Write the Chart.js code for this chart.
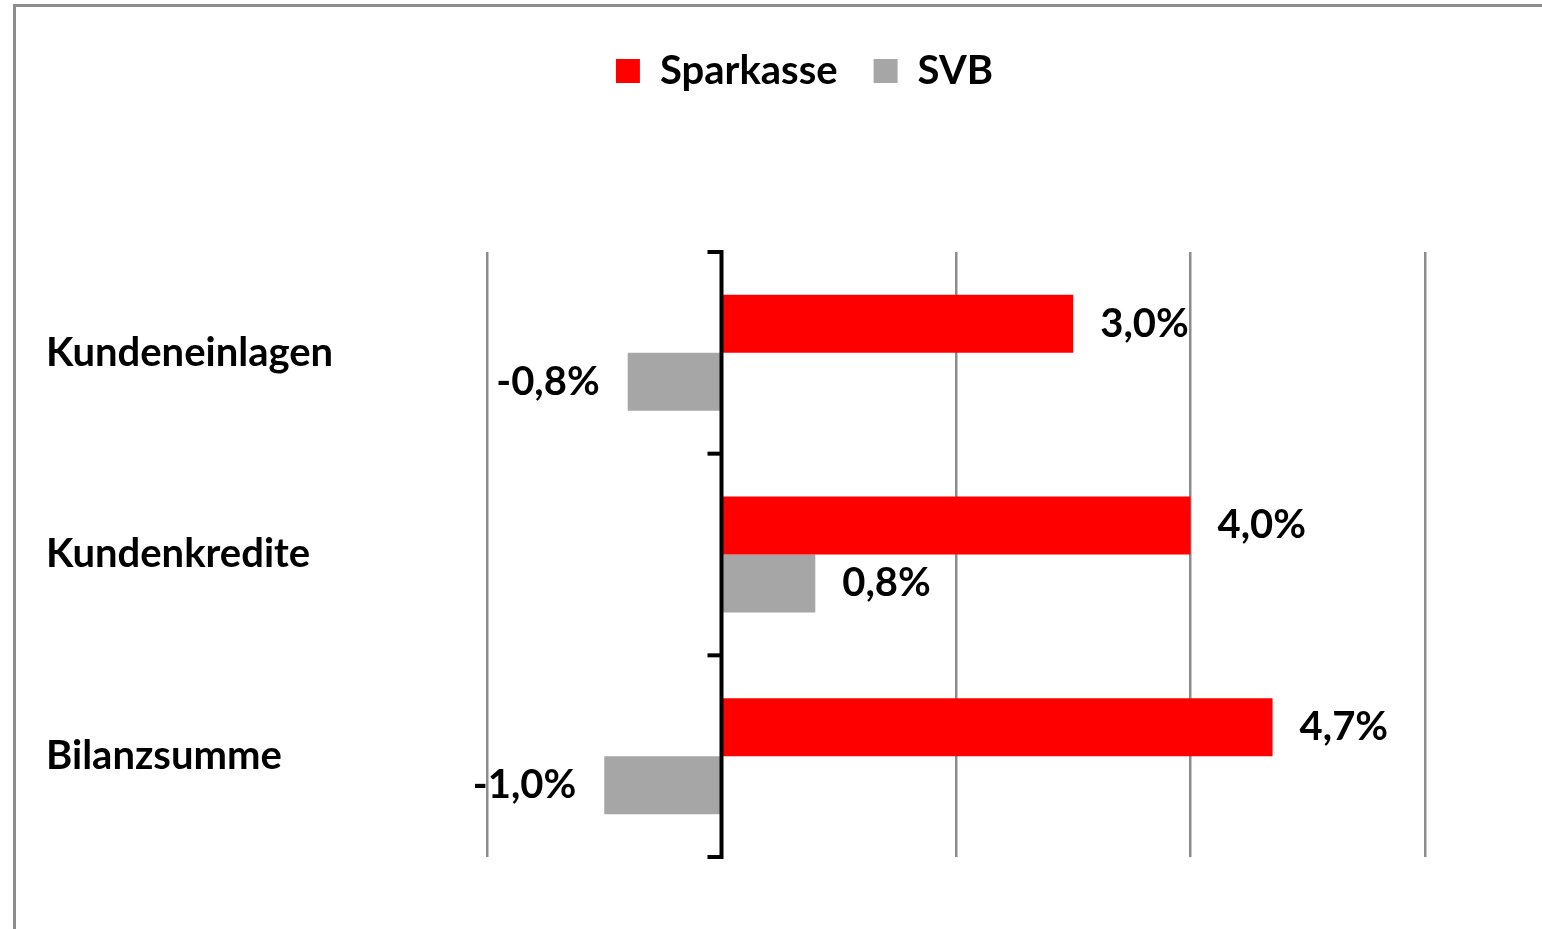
<!DOCTYPE html>
<html>
<head>
<meta charset="utf-8">
<script src="https://cdn.jsdelivr.net/npm/chart.js@4/dist/chart.umd.min.js"></script>
<style>
  body { margin: 0; background: #fff; overflow: hidden; }
  .wrap { position: relative; width: 1542px; height: 929px; }
  .frame { position: absolute; left: 13px; top: 4px; width: 1600px; height: 1000px;
           border-top: 3px solid #8c8c8c; border-left: 3px solid #8c8c8c; pointer-events: none; }
</style>
</head>
<body>
<div class="wrap">
  <canvas id="myChart"></canvas>
  <div class="frame"></div>
</div>
<script>
const categories = ['Kundeneinlagen', 'Kundenkredite', 'Bilanzsumme'];
const seriesNames = ['Sparkasse', 'SVB'];
const sparkasse = [3.0, 4.0, 4.7];
const svb = [-0.8, 0.8, -1.0];
const xTicks = [-2, 0, 2, 4, 6];

const fontFamily = 'Lato, "Open Sans", sans-serif';
const labelFont = { family: fontFamily, size: 40, weight: 'bold' };

function fmt(v) {
    return v.toFixed(1).replace('.', ',') + '%';
}

// value labels next to the bar ends
const valueLabels = {
    id: 'valueLabels',
    afterDatasetsDraw(chart) {
        const ctx = chart.ctx;
        ctx.save();
        ctx.font = 'bold 40px ' + fontFamily;
        ctx.fillStyle = '#000';
        ctx.textBaseline = 'middle';
        chart.data.datasets.forEach((ds, i) => {
            chart.getDatasetMeta(i).data.forEach((bar, j) => {
                const v = ds.data[j];
                if (v >= 0) {
                    ctx.textAlign = 'left';
                    ctx.fillText(fmt(v), bar.x + 27, bar.y);
                } else {
                    ctx.textAlign = 'right';
                    ctx.fillText(fmt(v), bar.x - 28, bar.y);
                }
            });
        });
        ctx.restore();
    }
};

// black zero axis with small marks between categories
const zeroAxis = {
    id: 'zeroAxis',
    afterDatasetsDraw(chart) {
        const x0 = chart.scales.x.getPixelForValue(0);
        const y = chart.scales.y;
        const ctx = chart.ctx;
        ctx.save();
        ctx.strokeStyle = '#000';
        ctx.lineWidth = 4;
        for (let i = 0; i <= categories.length; i++) {
            const py = y.getPixelForValue(i - 0.5);
            ctx.beginPath();
            ctx.moveTo(x0 - 14, py);
            ctx.lineTo(x0, py);
            ctx.stroke();
        }
        ctx.beginPath();
        ctx.moveTo(x0, y.top - 2);
        ctx.lineTo(x0, y.bottom + 2);
        ctx.stroke();
        ctx.restore();
    }
};

const ctx = document.getElementById('myChart').getContext('2d');

const myChart = new Chart(ctx, {
    type: 'bar',
    data: {
        labels: categories,
        datasets: [{
            label: seriesNames[0],
            data: sparkasse,
            backgroundColor: '#ff0000',
            barPercentage: 1,
            categoryPercentage: 0.575
        }, {
            label: seriesNames[1],
            data: svb,
            backgroundColor: '#a6a6a6',
            barPercentage: 1,
            categoryPercentage: 0.575
        }]
    },
    options: {
        indexAxis: 'y',
        responsive: true,
        maintainAspectRatio: false,
        animation: false,
        layout: { padding: { top: 15, left: 184, right: 117, bottom: 72 } },
        scales: {
            x: {
                position: 'top',
                min: -2,
                max: 6,
                afterBuildTicks: s => { s.ticks = xTicks.map(v => ({ value: v })); },
                afterFit: s => { s.height = 151; },
                ticks: { display: false },
                grid: {
                    color: c => c.tick && c.tick.value === 0 ? '#000' : '#8c8c8c',
                    lineWidth: 2.5,
                    drawTicks: false
                },
                border: { display: false }
            },
            y: {
                afterFit: s => { s.width = 303; },
                grid: { display: false },
                border: { display: false },
                ticks: {
                    mirror: true,
                    padding: -441,
                    crossAlign: 'near',
                    color: '#000',
                    font: labelFont
                }
            }
        },
        plugins: {
            legend: {
                position: 'top',
                labels: {
                    boxWidth: 24,
                    boxHeight: 24,
                    padding: 36,
                    color: '#000',
                    font: labelFont
                }
            },
            tooltip: { enabled: false }
        }
    },
    plugins: [valueLabels, zeroAxis]
});
</script>
</body>
</html>
